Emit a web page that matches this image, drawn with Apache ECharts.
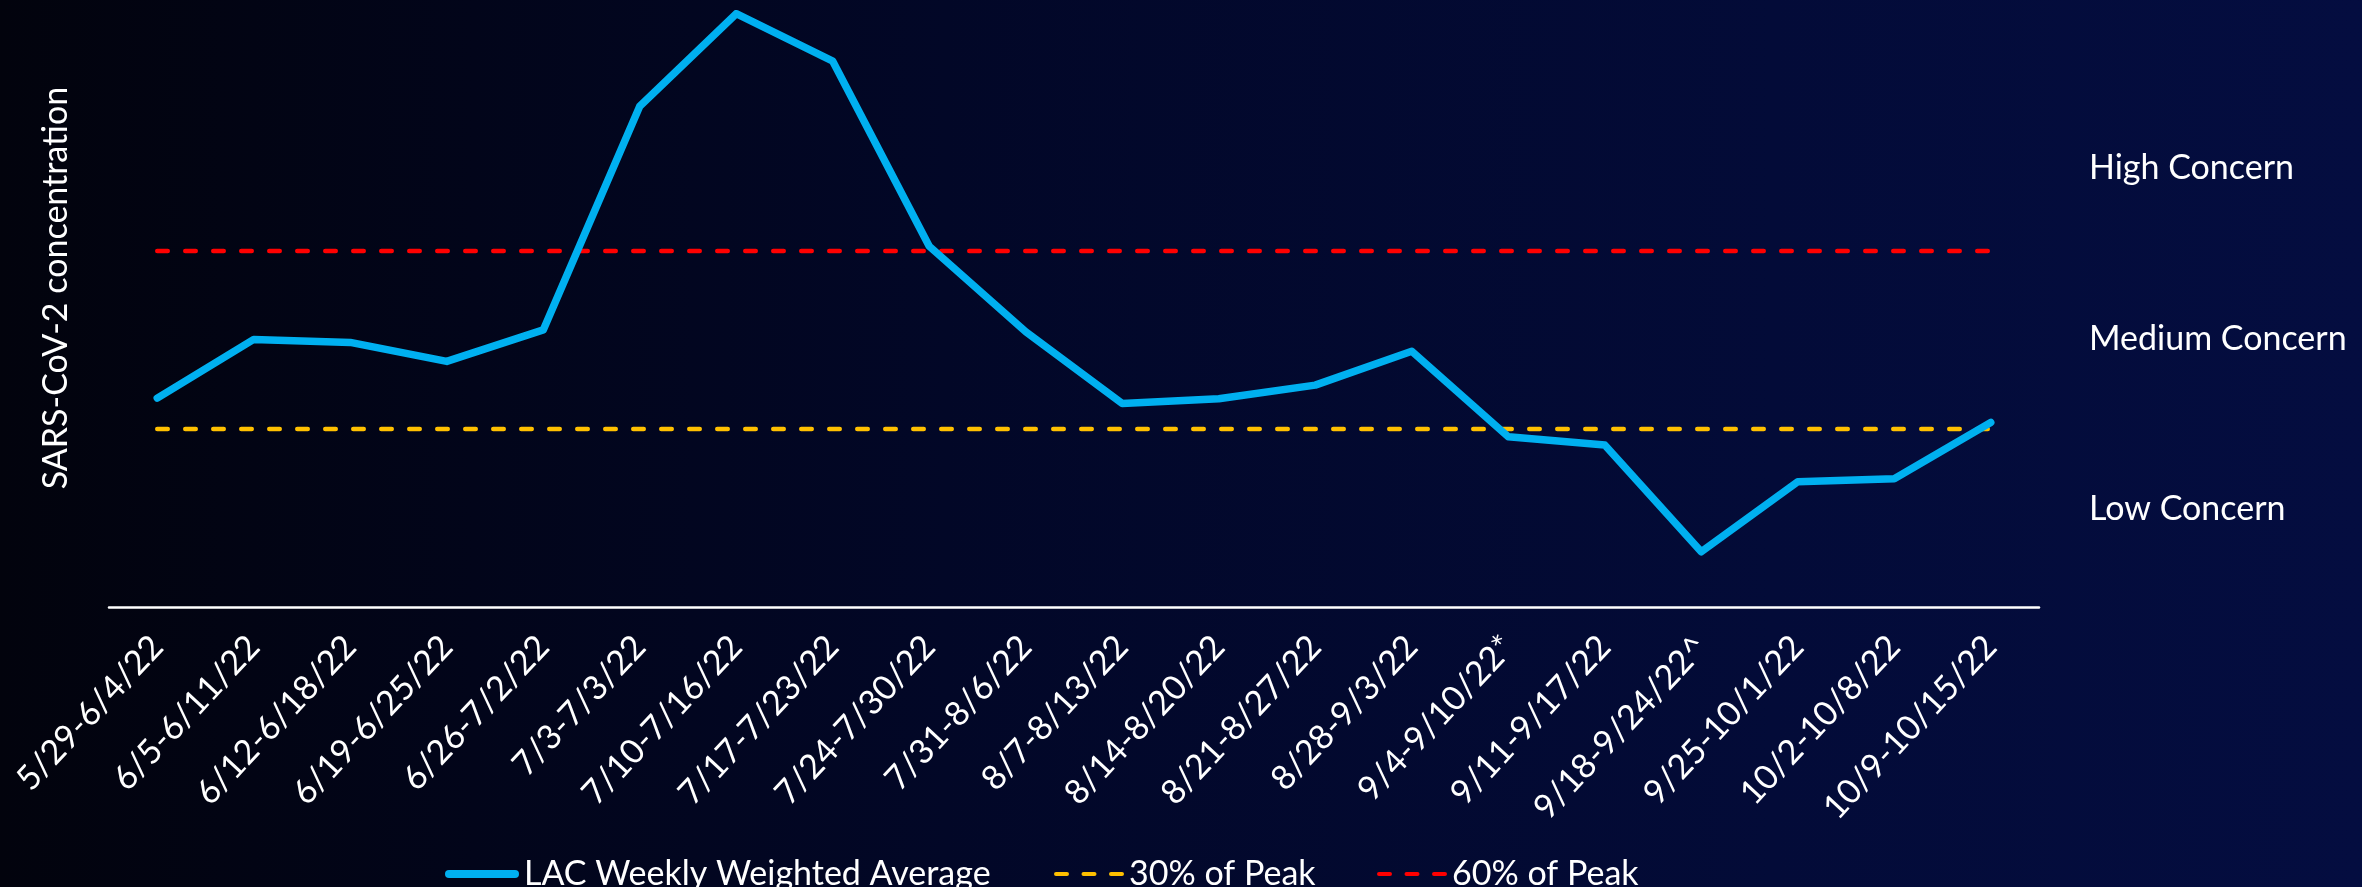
<!DOCTYPE html>
<html>
<head>
<meta charset="utf-8">
<script src="https://cdn.jsdelivr.net/npm/echarts@6/dist/echarts.min.js"></script>
<style>
  html, body { margin: 0; padding: 0; }
  body { width: 2362px; height: 887px; background: linear-gradient(90deg, #02030d 0%, #020727 40%, #030b38 75%, #040d40 100%); }
  #chart { width: 2362px; height: 887px; }
</style>
</head>
<body>
<div id="chart"></div>
<script>
const categories = [
  '5/29-6/4/22', '6/5-6/11/22', '6/12-6/18/22', '6/19-6/25/22', '6/26-7/2/22',
  '7/3-7/3/22', '7/10-7/16/22', '7/17-7/23/22', '7/24-7/30/22', '7/31-8/6/22',
  '8/7-8/13/22', '8/14-8/20/22', '8/21-8/27/22', '8/28-9/3/22', '9/4-9/10/22*',
  '9/11-9/17/22', '9/18-9/24/22^', '9/25-10/1/22', '10/2-10/8/22', '10/9-10/15/22'
];
const weeklyAverage = [35.2, 45.1, 44.6, 41.4, 46.7, 84.4, 100, 92.0, 60.8, 46.4,
                       34.3, 35.1, 37.4, 43.1, 28.7, 27.3, 9.3, 21.1, 21.6, 31.1];
const peak30 = [30, 30, 30, 30, 30, 30, 30, 30, 30, 30, 30, 30, 30, 30, 30, 30, 30, 30, 30, 30];
const peak60 = [60, 60, 60, 60, 60, 60, 60, 60, 60, 60, 60, 60, 60, 60, 60, 60, 60, 60, 60, 60];
const seriesNames = ['LAC Weekly Weighted Average', '30% of Peak', '60% of Peak'];
const concernLabels = ['High Concern', 'Medium Concern', 'Low Concern'];
const yAxisTitle = 'SARS-CoV-2 concentration';

const FONT = 'Lato';
const FS = 34;
const chart = echarts.init(document.getElementById('chart'), null, { renderer: 'canvas' });

const legendText = { color: '#ffffff', fontSize: FS, fontFamily: FONT, lineHeight: FS };
const dashIcon = 'path://M2,0 L13,0 A2,2 0 0 1 13,4 L2,4 A2,2 0 0 1 2,0 Z M29.5,0 L40.5,0 A2,2 0 0 1 40.5,4 L29.5,4 A2,2 0 0 1 29.5,0 Z M57,0 L68,0 A2,2 0 0 1 68,4 L57,4 A2,2 0 0 1 57,0 Z';
const solidIcon = 'path://M4,0 L70,0 A4,4 0 0 1 70,8 L4,8 A4,4 0 0 1 4,0 Z';

chart.setOption({
  backgroundColor: 'transparent',
  animation: false,
  grid: { left: 109, right: 323, top: 13.7, bottom: 280, containLabel: false },
  xAxis: {
    type: 'category',
    data: categories,
    boundaryGap: true,
    axisLine: { show: true, lineStyle: { color: '#ffffff', width: 2.5 } },
    axisTick: { show: false },
    axisLabel: {
      interval: 0, rotate: 47, margin: 34,
      color: '#ffffff', fontSize: FS, fontFamily: FONT
    },
    splitLine: { show: false }
  },
  yAxis: {
    type: 'value', min: 0, max: 100,
    axisLine: { show: false }, axisTick: { show: false },
    axisLabel: { show: false }, splitLine: { show: false }
  },
  legend: [
    { top: 852, left: 440, itemWidth: 74, itemHeight: 8, selectedMode: false, textStyle: legendText,
      data: [{ name: seriesNames[0], icon: solidIcon, itemStyle: { color: '#00B0F0' } }] },
    { top: 852, left: 1049, itemWidth: 70, itemHeight: 4, selectedMode: false, textStyle: legendText,
      data: [{ name: seriesNames[1], icon: dashIcon, itemStyle: { color: '#FFC000' } }] },
    { top: 852, left: 1372, itemWidth: 70, itemHeight: 4, selectedMode: false, textStyle: legendText,
      data: [{ name: seriesNames[2], icon: dashIcon, itemStyle: { color: '#FF0000' } }] }
  ],
  series: [
    {
      name: seriesNames[1], type: 'line', data: peak30, symbol: 'none', z: 2,
      lineStyle: { color: '#FFC000', width: 4.5, type: [10.5, 17.5], cap: 'round' },
      itemStyle: { color: '#FFC000' }
    },
    {
      name: seriesNames[2], type: 'line', data: peak60, symbol: 'none', z: 2,
      lineStyle: { color: '#FF0000', width: 4.5, type: [10.5, 17.5], cap: 'round' },
      itemStyle: { color: '#FF0000' }
    },
    {
      name: seriesNames[0], type: 'line', data: weeklyAverage, symbol: 'none', z: 3,
      lineStyle: { color: '#00B0F0', width: 7.5, cap: 'round', join: 'round' },
      itemStyle: { color: '#00B0F0' }
    }
  ],
  graphic: [
    { type: 'text', x: 56, y: 288, rotation: Math.PI / 2,
      style: { text: yAxisTitle, fill: '#ffffff', font: FS + 'px ' + FONT, align: 'center', verticalAlign: 'middle' } },
    { type: 'text', x: 2089, y: 168,
      style: { text: concernLabels[0], fill: '#ffffff', font: FS + 'px ' + FONT, align: 'left', verticalAlign: 'middle' } },
    { type: 'text', x: 2089, y: 339,
      style: { text: concernLabels[1], fill: '#ffffff', font: FS + 'px ' + FONT, align: 'left', verticalAlign: 'middle' } },
    { type: 'text', x: 2089, y: 509,
      style: { text: concernLabels[2], fill: '#ffffff', font: FS + 'px ' + FONT, align: 'left', verticalAlign: 'middle' } }
  ]
});
</script>
</body>
</html>
